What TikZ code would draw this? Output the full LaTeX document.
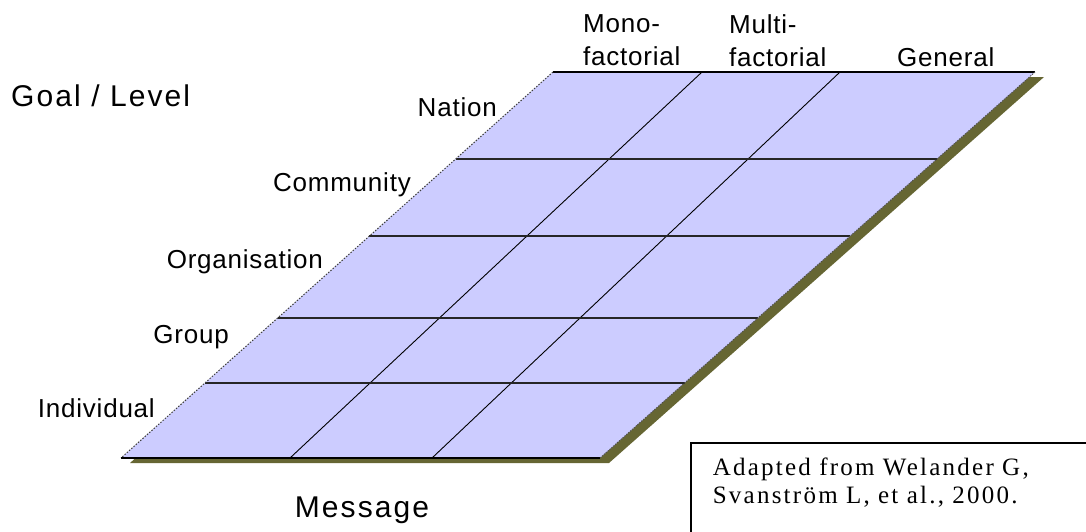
\documentclass[tikz,border=0pt]{standalone}
\usepackage{fontspec}
\usetikzlibrary{calc}
\setmainfont{Liberation Sans}
\newfontfamily\lblfont[LetterSpace=3]{Liberation Sans}
\newfontfamily\bigfont[LetterSpace=7]{Liberation Sans}
\newfontfamily\srcfont[LetterSpace=9]{Liberation Serif}
\definecolor{shadowcol}{RGB}{102,102,51}
\definecolor{cellfill}{RGB}{204,204,255}
\begin{document}
\begin{tikzpicture}[x=1pt,y=-1pt,
  lbl/.style={font=\lblfont\fontsize{26}{33}\selectfont, inner sep=0pt},
  big/.style={font=\bigfont\fontsize{30}{36}\selectfont, inner sep=0pt},
  colline/.style={line width=0.9pt, black},
  rowline/.style={line width=1.8pt, black!85},
  edgeline/.style={line width=1.8pt, black},
  dotedge/.style={line width=1pt, black!75, dash pattern=on 1.5pt off 1.5pt},
  srcbox/.style={draw, line width=1.5pt, anchor=north west, align=left,
    text width=380pt, inner xsep=22pt, inner ysep=15pt,
    font=\srcfont\fontsize{25}{28}\selectfont}
]
\useasboundingbox (0,0) rectangle (1086,531);
\clip (0,0) rectangle (1086,531);
% corners
\coordinate (TL) at (553,72);
\coordinate (TR) at (1035,72);
\coordinate (BR) at (600,458);
\coordinate (BL) at (121,458);
% shadow
\fill[shadowcol] ([shift={(9,5)}]TL) -- ([shift={(9,5)}]TR) -- ([shift={(9,5)}]BR) -- ([shift={(9,5)}]BL) -- cycle;
% plane
\fill[cellfill] (TL) -- (TR) -- (BR) -- (BL) -- cycle;
% column dividers
\coordinate (C1b) at (290,458);
\coordinate (C1t) at (702,72);
\coordinate (C2b) at (432,458);
\coordinate (C2t) at (840,72);
\draw[colline] (C1b) -- (C1t);
\draw[colline] (C2b) -- (C2t);
% row dividers
\foreach \t [count=\i] in {0.2254,0.4249,0.6373,0.8057}{
  \coordinate (R\i l) at ($(TL)!\t!(BL)$);
  \coordinate (R\i r) at ($(TR)!\t!(BR)$);
  \draw[rowline] (R\i l) -- (R\i r);
}
% edges
\draw[edgeline] (TL) -- (TR);
\draw[edgeline] (BL) -- (BR);
\draw[dotedge] (TL) -- (BL);
\draw[line width=0.8pt, black!70, dash pattern=on 1.5pt off 1pt] (TR) -- (BR);
% labels
\node[big, anchor=base west] (goal) at (11,106) {Goal / Level};
\node[lbl, anchor=base east] (nation) at (497,116) {Nation};
\node[lbl, anchor=base east] (community) at (411,191) {Community};
\node[lbl, anchor=base east] (organisation) at (323,268) {Organisation};
\node[lbl, anchor=base east] (group) at (229,343) {Group};
\node[lbl, anchor=base east] (individual) at (155,417) {Individual};
\node[lbl, anchor=north west, align=left] (mono) at (583,14) {Mono-\\factorial};
\node[lbl, anchor=north west, align=left] (multi) at (729,14) {Multi-\\factorial};
\node[lbl, anchor=base west] (general) at (897,66) {General};
\node[big, anchor=base] (message) at (362,517) {Message};
\node[srcbox] (source) at (690,442) {Adapted from Welander G,\\Svanstr\"om L, et al., 2000.\\\strut};
\end{tikzpicture}
\end{document}
